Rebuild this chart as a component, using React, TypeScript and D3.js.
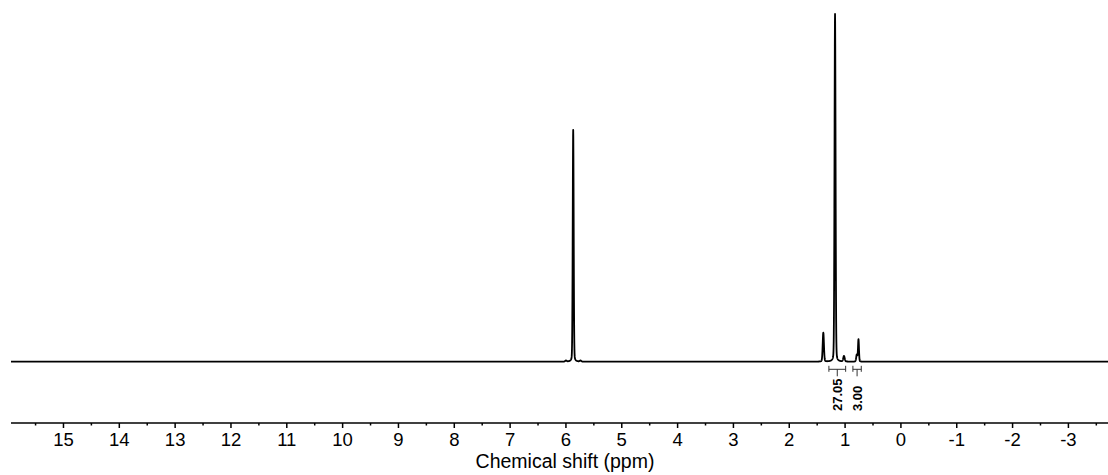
import React from "react";
import * as d3 from "d3";

// Peak list (ppm, relative height, FWHM in ppm)
const peakShifts = [6.0, 5.87, 5.74, 1.39, 1.18, 1.02, 0.79, 0.76];
const peakHeights = [0.3, 66.7, 0.3, 8.3, 100, 1.6, 2.0, 6.4];
const peakWidths = [0.03, 0.02, 0.03, 0.026, 0.022, 0.03, 0.025, 0.02];

// Axis ticks
const majorTicks = [15, 14, 13, 12, 11, 10, 9, 8, 7, 6, 5, 4, 3, 2, 1, 0, -1, -2, -3];
const minorTicks = [15.5, 14.5, 13.5, 12.5, 11.5, 10.5, 9.5, 8.5, 7.5, 6.5, 5.5, 4.5, 3.5, 2.5, 1.5, 0.5, -0.5, -1.5, -2.5, -3.5];

// Integrations: [from ppm, to ppm, value label]
const integFrom = [1.29, 0.86];
const integTo = [0.99, 0.71];
const integLabels = ["27.05", "3.00"];

const W = 1108;
const H = 475;
const FONT = "'Liberation Sans', Arial, sans-serif";
const ETA = 0.15; // Lorentzian fraction of pseudo-Voigt line shape

export default function App() {
  const x = d3.scaleLinear().domain([15.94, -3.72]).range([11, 1108.6]);
  const y = d3.scaleLinear().domain([0, 100]).range([361.7, 14]);

  const sampleSet: number[] = [];
  for (let v = 15.94; v >= -3.72; v -= 0.002) sampleSet.push(v);
  peakShifts.forEach((p) => sampleSet.push(p));
  sampleSet.sort((a, b) => b - a);

  const intensity = (v: number) => {
    let s = 0;
    for (let i = 0; i < peakShifts.length; i++) {
      const g = peakWidths[i] / 2;
      const d = v - peakShifts[i];
      const lor = (g * g) / (d * d + g * g);
      const gau = Math.exp((-Math.LN2 * d * d) / (g * g));
      s += peakHeights[i] * (ETA * lor + (1 - ETA) * gau);
    }
    return s;
  };

  const line = d3
    .line<number>()
    .x((v) => x(v))
    .y((v) => y(intensity(v)));

  const axisY = 423;
  const bracketY = 369.3;

  return (
    <svg
      width={W}
      height={H}
      style={{ position: "fixed", left: 0, top: 0, background: "#fff" }}
    >
      <rect x={0} y={0} width={W} height={H} fill="#fff" />
      <path d={line(sampleSet) || ""} fill="none" stroke="#000" strokeWidth={1.8} strokeLinejoin="round" />

      {/* integration brackets */}
      {integFrom.map((f, i) => {
        const x0 = x(f);
        const x1 = x(integTo[i]);
        const xm = (x0 + x1) / 2;
        return (
          <g key={"int" + i} stroke="#333" strokeWidth={1} fill="none">
            <line x1={x0} x2={x1} y1={bracketY} y2={bracketY} />
            <line x1={x0} x2={x0} y1={bracketY - 3.5} y2={bracketY + 2.5} />
            <line x1={x1} x2={x1} y1={bracketY - 3.5} y2={bracketY + 2.5} />
            <line x1={xm} x2={xm} y1={bracketY} y2={bracketY + 7} />
          </g>
        );
      })}
      {integFrom.map((f, i) => {
        const xm = (x(f) + x(integTo[i])) / 2;
        const tx = xm + 4.6;
        const ty = 411;
        return (
          <text
            key={"il" + i}
            transform={`translate(${tx},${ty}) rotate(-90)`}
            fontFamily={FONT}
            fontWeight="bold"
            fontSize={13}
            fill="#000"
            textAnchor="start"
          >
            {integLabels[i]}
          </text>
        );
      })}

      {/* x axis */}
      <line x1={11} x2={W} y1={axisY} y2={axisY} stroke="#000" strokeWidth={1.5} />
      {majorTicks.map((t) => (
        <line key={"M" + t} x1={x(t)} x2={x(t)} y1={axisY} y2={axisY + 5} stroke="#000" strokeWidth={1.5} />
      ))}
      {minorTicks.map((t) => (
        <line key={"m" + t} x1={x(t)} x2={x(t)} y1={axisY} y2={axisY + 2.5} stroke="#000" strokeWidth={1.5} />
      ))}
      {majorTicks.map((t) => (
        <text
          key={"L" + t}
          x={x(t)}
          y={446}
          textAnchor="middle"
          fontFamily={FONT}
          fontSize={18.5}
          fill="#000"
        >
          {t < 0 ? "-" + Math.abs(t) : String(t)}
        </text>
      ))}
      <text x={565} y={468.3} textAnchor="middle" fontFamily={FONT} fontSize={19.5} fill="#000">
        Chemical shift (ppm)
      </text>
    </svg>
  );
}
